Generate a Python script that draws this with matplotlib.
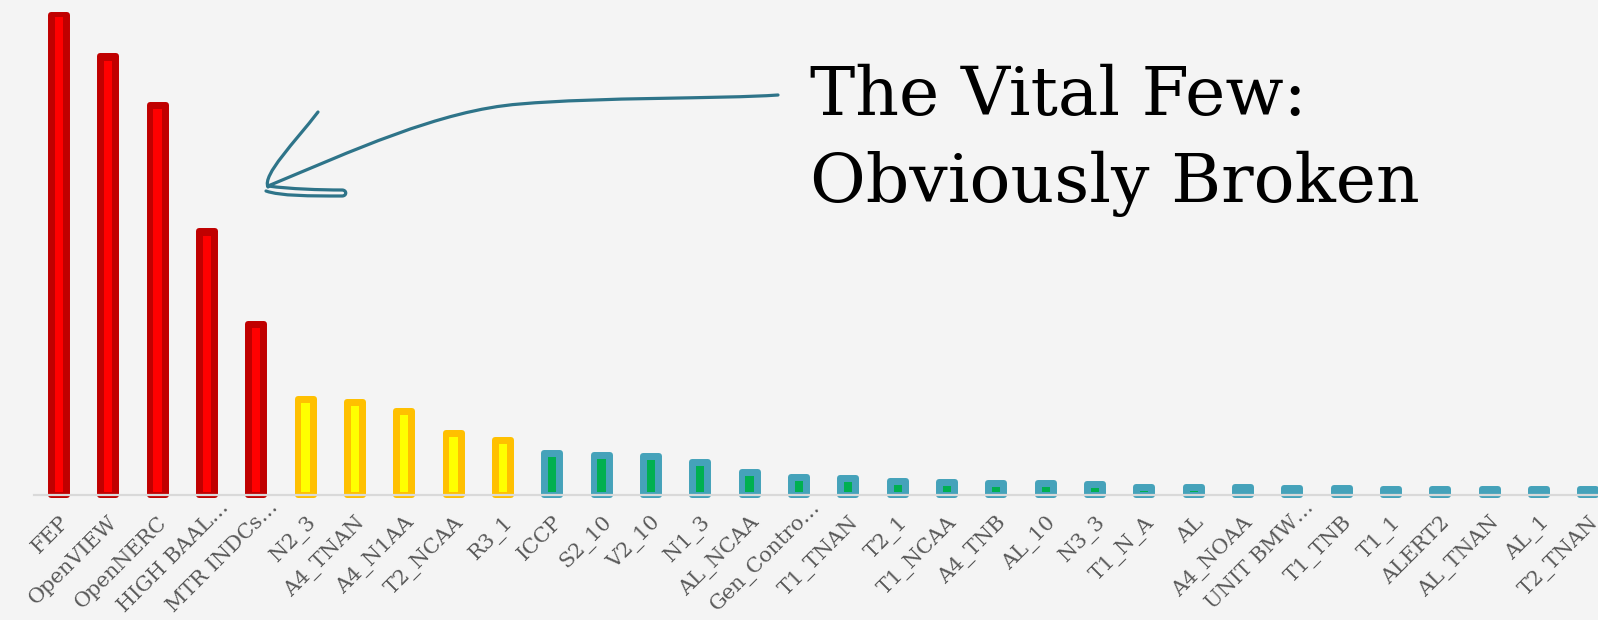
import numpy as np
import matplotlib.pyplot as plt
from matplotlib.path import Path
from matplotlib.patches import PathPatch
from matplotlib.transforms import Affine2D, ScaledTranslation

# categories, left to right (sorted pareto style)
labels = ["FEP", "OpenVIEW", "OpenNERC", "HIGH BAAL…", "MTR INDCs…",
          "N2_3", "A4_TNAN", "A4_N1AA", "T2_NCAA", "R3_1",
          "ICCP", "S2_10", "V2_10", "N1_3", "AL_NCAA", "Gen_Contro…",
          "T1_TNAN", "T2_1", "T1_NCAA", "A4_TNB", "AL_10", "N3_3",
          "T1_N_A", "AL", "A4_NOAA", "UNIT BMW…", "T1_TNB", "T1_1",
          "ALERT2", "AL_TNAN", "AL_1", "T2_TNAN"]
tiers = ["vital"] * 5 + ["middle"] * 5 + ["trivial"] * 22

# outer series (total)
totals = [479.5, 438.5, 389.8, 263.2, 170.8,
          95.8, 92.5, 83.2, 61.5, 54.8,
          41.5, 39.8, 38.8, 32.5, 22.8, 17.5,
          16.5, 13.2, 12.2, 11.8, 11.5, 10.2,
          7.8, 7.8, 7.2, 6.8, 6.5, 5.8,
          5.8, 5.8, 5.5, 5.5]
# inner series
inner = [477.8, 433.5, 385.5, 258.8, 166.5,
         91.8, 88.5, 79.5, 57.8, 50.8,
         37.5, 35.5, 34.8, 28.5, 18.8, 13.5,
         12.2, 9.5, 8.5, 7.8, 7.5, 6.5,
         3.5, 3.5, 0, 0, 0, 0,
         0, 0, 0, 0]

outer_col = {"vital": "#C00000", "middle": "#FFC000", "trivial": "#45A2BA"}
inner_col = {"vital": "#FF0000", "middle": "#FFFF00", "trivial": "#00B050"}

W, H = 1598, 620
BG = "#F4F4F4"
fig = plt.figure(figsize=(W / 100, H / 100), dpi=100, facecolor=BG)
left_px, base_px, step_px = 34.2, 494.5, 49.34
ax = fig.add_axes([left_px / W, 1 - base_px / H, 1 - left_px / W, base_px / H])
ax.set_facecolor(BG)

x = np.arange(len(labels))
oc = [outer_col[t] for t in tiers]
ic = [inner_col[t] for t in tiers]
ax.bar(x, totals, width=0.325, color=oc, edgecolor=oc, linewidth=4.3,
       joinstyle="round", clip_on=False, zorder=2)
off = 2.8
ax.bar(x, np.maximum(np.array(inner) - off, 0), bottom=off, width=0.168,
       color=ic, linewidth=0, clip_on=False, zorder=3)

ax.set_xlim(-0.5, -0.5 + (W - left_px) / step_px)
ax.set_ylim(0, base_px)
ax.set_yticks([])
ax.set_xticks(x)
ax.set_xticklabels(labels, rotation=45, ha="right", va="top",
                   rotation_mode="anchor", fontsize=15, color="#595959",
                   family="DejaVu Serif")
ax.tick_params(axis="x", length=0, pad=13)
# truncated labels sit a bit further up/right, like the original
for lab in ax.get_xticklabels():
    if lab.get_text().endswith("…"):
        lab.set_transform(lab.get_transform()
                          + ScaledTranslation(0.12, 0.15, fig.dpi_scale_trans))
for s in ["top", "left", "right"]:
    ax.spines[s].set_visible(False)
ax.spines["bottom"].set_color("#D9D9D9")
ax.spines["bottom"].set_linewidth(1.6)
ax.spines["bottom"].set_zorder(4)

fig.text(809.5 / W, 1 - 115 / H, "The Vital Few:", fontsize=49,
         family="DejaVu Serif", va="baseline", ha="left", color="black")
fig.text(809.5 / W, 1 - 201.7 / H, "Obviously Broken", fontsize=49,
         family="DejaVu Serif", va="baseline", ha="left", color="black")

# hand drawn arrow, figure pixel coords (y down)
tr = Affine2D().scale(1 / W, -1 / H).translate(0, 1) + fig.transFigure
M, C = Path.MOVETO, Path.CURVE4
verts = [(778, 95), (720, 99), (600, 97), (520, 104),
         (440, 110), (350, 152), (268, 186),
         (318, 112), (295, 142), (262, 175), (268, 187),
         (268, 186), (290, 189), (320, 190), (342, 190),
         (347, 190), (347, 196), (342, 196),
         (310, 196), (280, 196), (266, 191)]
codes = [M, C, C, C, C, C, C,
         M, C, C, C,
         M, C, C, C, C, C, C, C, C, C]
fig.add_artist(PathPatch(Path(verts, codes), fill=False, edgecolor="#2E7489",
                         lw=2.3, capstyle="round", joinstyle="round",
                         transform=tr))

fig.savefig("out.png", dpi=100, facecolor=BG)
